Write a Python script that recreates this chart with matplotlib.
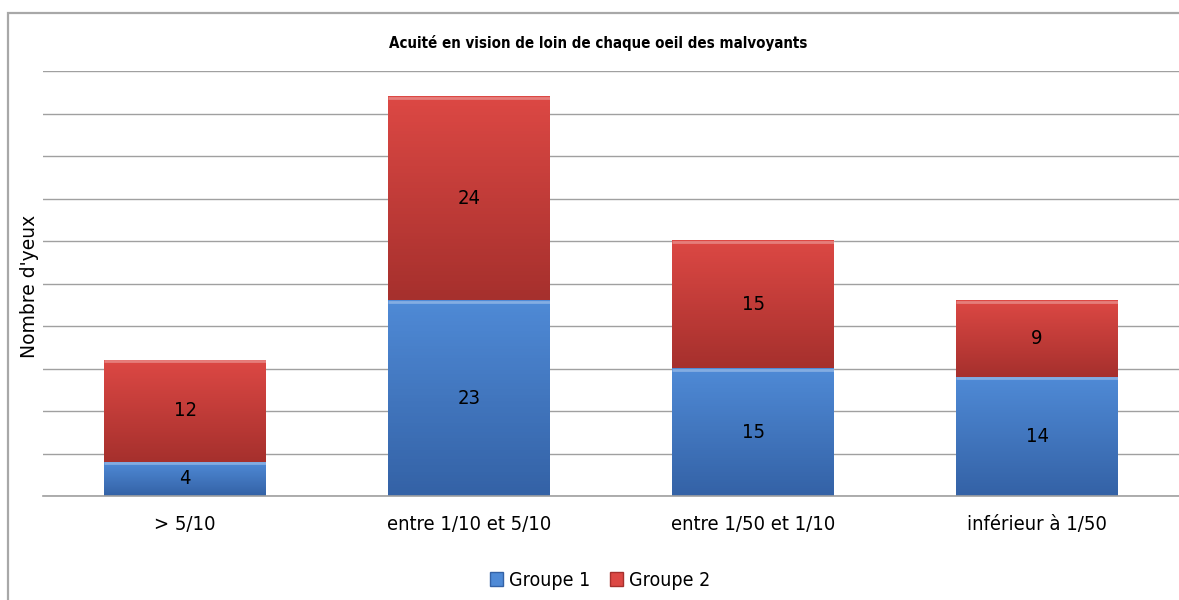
import matplotlib
matplotlib.use("Agg")
import matplotlib.pyplot as plt
import numpy as np
from matplotlib.colors import LinearSegmentedColormap
from matplotlib.patches import Rectangle

categories = ["> 5/10", "entre 1/10 et 5/10", "entre 1/50 et 1/10", "inférieur à 1/50"]
groupe1 = [4, 23, 15, 14]
groupe2 = [12, 24, 15, 9]
series = ["Groupe 1", "Groupe 2"]

plt.rcParams["font.family"] = ["Liberation Sans Narrow", "DejaVu Sans"]
plt.rcParams["font.stretch"] = "condensed"

# (top colour, bottom colour) of each series' vertical gradient
GRAD = [("#4f8ad6", "#3462a6"), ("#dc4844", "#a6302d")]
GRID = "#a0a0a0"

fig = plt.figure(figsize=(11.79, 6.0), dpi=100)
ax = fig.add_axes([43 / 1179, 104 / 600, 1136 / 1179, 425 / 600])

x = np.arange(len(categories))
w = 0.57
bottoms = np.zeros(len(categories))
for vals, (top, bot), name in zip((groupe1, groupe2), GRAD, series):
    bars = ax.bar(x, vals, w, bottom=bottoms, color=bot, label=name,
                  edgecolor="none", zorder=2)
    cmap = LinearSegmentedColormap.from_list(name, [bot, top])
    grad = np.linspace(0, 1, 64).reshape(-1, 1)
    for b, v in zip(bars, vals):
        x0, y0 = b.get_x(), b.get_y()
        bw, bh = b.get_width(), b.get_height()
        ax.imshow(grad, cmap=cmap, origin="lower", aspect="auto",
                  extent=(x0, x0 + bw, y0, y0 + bh), zorder=3)
        # thin light bevel along the top of each segment
        ax.plot([x0, x0 + bw], [y0 + bh - 0.15, y0 + bh - 0.15],
                color="white", alpha=0.3, lw=2, zorder=4,
                solid_capstyle="butt")
        ax.text(x0 + bw / 2, y0 + bh / 2, str(v), ha="center", va="center",
                fontsize=14.5, color="black", zorder=5)
    bottoms += np.array(vals)

ax.set_xlim(-0.5, len(categories) - 0.5)
ax.set_ylim(0, 50)
ax.set_yticks(np.arange(0, 51, 5))
ax.set_yticklabels([])
ax.tick_params(axis="y", length=0)
ax.tick_params(axis="x", length=0, pad=14, labelsize=14.5)
ax.set_xticks(x, categories)
ax.grid(axis="y", color=GRID, lw=1.0, zorder=1)
ax.set_axisbelow(True)
for s in ("top", "left", "right"):
    ax.spines[s].set_visible(False)
ax.spines["bottom"].set_color(GRID)
ax.spines["bottom"].set_linewidth(1.2)
ax.spines["bottom"].set_zorder(6)

fig.text(30 / 1179, 1 - 286 / 600, "Nombre d'yeux", rotation=90,
         ha="center", va="center", fontsize=13.5, family="DejaVu Sans",
         fontstretch="normal")
fig.text(598 / 1179, 1 - 43 / 600, "Acuité en vision de loin de chaque oeil des malvoyants",
         ha="center", va="center", fontsize=10.8, fontweight="bold")

handles = [Rectangle((0, 0), 1, 1, facecolor=top, edgecolor=bot) for top, bot in GRAD]
fig.legend(handles, series, loc="center", bbox_to_anchor=(600 / 1179, 1 - 580 / 600),
           ncol=2, frameon=False, fontsize=14, handlelength=0.7, handleheight=0.7,
           handletextpad=0.3, columnspacing=1.0)

# chart frame (runs off the right and bottom edges)
fig.patches.append(Rectangle((8 / 1179, -0.1), 1.1, 1.1 - 13 / 600,
                             transform=fig.transFigure, fill=False,
                             edgecolor="#a8a8a8", lw=1.6))

fig.savefig("out.png", dpi=100)
